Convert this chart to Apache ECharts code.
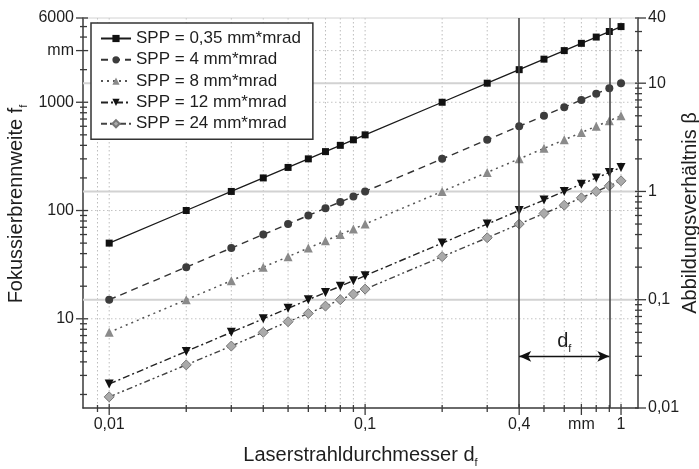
<!DOCTYPE html>
<html>
<head>
<meta charset="utf-8">
<title>Fokussierbrennweite</title>
<script src="https://cdn.jsdelivr.net/npm/echarts@6/dist/echarts.min.js"></script>
<style>
html,body{margin:0;padding:0;background:#fff;}
#chartBox{width:699px;height:469px;}
</style>
</head>
<body>
<div id="chartBox"></div>
<script>
// Laserstrahldurchmesser d_f in mm
var dVals=[0.01,0.02,0.03,0.04,0.05,0.06,0.07,0.08,0.09,0.1,0.2,0.3,0.4,0.5,0.6,0.7,0.8,0.9,1];
// Fokussierbrennweite f_f in mm
var spp035=[50,100,150,200,250,300,350,400,450,500,1000,1500,2000,2500,3000,3500,4000,4500,5000];
var spp4=[15,30,45,60,75,90,105,120,135,150,300,450,600,750,900,1050,1200,1350,1500];
var spp8=[7.5,15,22.5,30,37.5,45,52.5,60,67.5,75,150,225,300,375,450,525,600,675,750];
var spp12=[2.5,5,7.5,10,12.5,15,17.5,20,22.5,25,50,75,100,125,150,175,200,225,250];
var spp24=[1.9,3.75,5.6,7.5,9.4,11.2,13.1,15,16.9,18.8,37.5,56,75,94,112,131,150,169,188];
var seriesNames=['SPP = 0,35 mm*mrad','SPP = 4 mm*mrad','SPP = 8 mm*mrad','SPP = 12 mm*mrad','SPP = 24 mm*mrad'];

// axis ranges
var xMin=0.0079, xMax=1.165;
var fMin=1.5, fMax=6000;
var bMin=0.01, bMax=40;

// tick values and labels
var xMajor=[0.01,0.1,0.4,0.7,1];
var xLabels=['0,01','0,1','0,4','mm','1'];
var xMinor=[0.009,0.02,0.03,0.04,0.05,0.06,0.07,0.08,0.09,0.2,0.3,0.5,0.6,0.8,0.9];
var fMajor=[10,100,1000,3000,6000];
var fLabels=['10','100','1000','mm','6000'];
var fMinor=[2,3,4,5,6,7,8,9,20,30,40,50,60,70,80,90,200,300,400,500,600,700,800,900,2000,4000,5000];
var bMajor=[0.01,0.1,1,10,40];
var bLabels=['0,01','0,1','1','10','40'];
var bMinor=[0.02,0.03,0.04,0.05,0.06,0.07,0.08,0.09,0.2,0.3,0.4,0.5,0.6,0.7,0.8,0.9,2,3,4,5,6,7,8,9,20,30];
// grid lines
var xGrid=[0.009,0.01,0.02,0.03,0.04,0.05,0.06,0.07,0.08,0.09,0.1,0.2,0.3,0.5,0.6,0.7,0.8,1];
var fGrid=[10,100,1000,3000];
var bGrid=[0.1,1,10];
var bTop=[40];
// markierte Linien
var dfLines=[0.4,0.9];
var dfArrowY=4.5;

var fontFam='"Liberation Sans", Arial, Helvetica, sans-serif';
var axisColor='#3a3a3a';

function txt(x,y,s,align,vAlign){
	return {type:'text',x:x,y:y,silent:true,style:{text:s,fill:'#1e1e1e',fontSize:16,fontFamily:fontFam,align:align,verticalAlign:vAlign}};
}
function ln(x1,y1,x2,y2){
	return {type:'line',silent:true,shape:{x1:x1,y1:y1,x2:x2,y2:y2},style:{stroke:axisColor,lineWidth:1.3}};
}

// ticks + labels for one axis side
function tickSeries(side,vals,labels,lenOut,lenIn){
	var yIdx=side=='right'?1:0;
	return {
		type:'custom',yAxisIndex:yIdx,silent:true,z:6,clip:false,
		data:vals.map(function(v){
			if(side=='bottom'){return [v,fMin];}
			return [side=='left'?xMin:xMax,v];
		}),
		renderItem:function(params,api){
			var cs=params.coordSys;
			var p=api.coord([api.value(0),api.value(1)]);
			var lab=labels?labels[params.dataIndex]:null;
			var kids=[];
			if(side=='bottom'){
				var y0=cs.y+cs.height;
				kids.push(ln(p[0],y0-lenIn,p[0],y0+lenOut));
				if(lab){kids.push(txt(p[0],y0+9,lab,'center','top'));}
			}else if(side=='left'){
				var x0=cs.x;
				kids.push(ln(x0-lenOut,p[1],x0+lenIn,p[1]));
				if(lab){kids.push(txt(x0-9,p[1],lab,'right','middle'));}
			}else{
				var x1=cs.x+cs.width;
				kids.push(ln(x1-lenIn,p[1],x1+lenOut,p[1]));
				if(lab){kids.push(txt(x1+10,p[1],lab,'left','middle'));}
			}
			return {type:'group',children:kids};
		}
	};
}

// grid lines
function gridSeries(dir,yIdx,vals,stroke,width,dash){
	return {
		type:'custom',yAxisIndex:yIdx,silent:true,z:1,clip:false,
		data:vals.map(function(v){
			return dir=='v'?[v,fMin]:[xMin,v];
		}),
		renderItem:function(params,api){
			var cs=params.coordSys;
			var p=api.coord([api.value(0),api.value(1)]);
			var shape=dir=='v'?{x1:p[0],y1:cs.y,x2:p[0],y2:cs.y+cs.height}:{x1:cs.x,y1:p[1],x2:cs.x+cs.width,y2:p[1]};
			return {type:'line',silent:true,shape:shape,style:{stroke:stroke,lineWidth:width,lineDash:dash}};
		}
	};
}

function pairs(ys){
	var out=[];
	for(var i=0;i<dVals.length;i++){out.push([dVals[i],ys[i]]);}
	return out;
}

var richSub={
	a:{fontSize:20,fontFamily:fontFam,color:'#1e1e1e',lineHeight:26},
	s:{fontSize:11,fontFamily:fontFam,color:'#1e1e1e',verticalAlign:'bottom',lineHeight:11}
};

var lineSeries=[
	{name:seriesNames[0],data:pairs(spp035),symbol:'rect',symbolSize:7,
		itemStyle:{color:'#111'},lineStyle:{color:'#1a1a1a',width:1.3,type:'solid'}},
	{name:seriesNames[1],data:pairs(spp4),symbol:'circle',symbolSize:8,
		itemStyle:{color:'#3c3c3c'},lineStyle:{color:'#333',width:1.4,type:[7,5]}},
	{name:seriesNames[2],data:pairs(spp8),symbol:'triangle',symbolSize:9,
		itemStyle:{color:'#8a8a8a'},lineStyle:{color:'#555',width:1.5,type:[2,4]}},
	{name:seriesNames[3],data:pairs(spp12),symbol:'triangle',symbolRotate:180,symbolSize:9,
		itemStyle:{color:'#111'},lineStyle:{color:'#222',width:1.4,type:[7,3,2,3]}},
	{name:seriesNames[4],data:pairs(spp24),symbol:'diamond',symbolSize:10,
		itemStyle:{color:'#aaa',borderColor:'#777',borderWidth:1},lineStyle:{color:'#444',width:1.4,type:[6,3,2,3,2,3]}}
];
lineSeries.forEach(function(s){
	s.type='line';
	s.z=4;
	s.showAllSymbol=true;
	s.silent=true;
	s.emphasis={disabled:true};
});

// vertical lines at 0,4 and 0,9 with d_f arrow
lineSeries[0].markLine={
	silent:true,
	symbol:['none','none'],
	animation:false,
	label:{show:false},
	lineStyle:{color:'#444',width:1.6,type:'solid'},
	emphasis:{disabled:true},
	data:[
		{xAxis:dfLines[0]},
		{xAxis:dfLines[1]},
		[
			{coord:[dfLines[0],dfArrowY],symbol:'arrow',symbolSize:[8,12],
				label:{show:true,position:'middle',distance:2,formatter:'{a|d}{s|f}',rich:richSub},
				lineStyle:{color:'#111',width:1.4}},
			{coord:[dfLines[1],dfArrowY],symbol:'arrow',symbolSize:[8,12]}
		]
	]
};

var chartsBox=echarts.init(document.getElementById('chartBox'));
var option={
	animation:false,
	backgroundColor:'#fff',
	textStyle:{fontFamily:fontFam},
	grid:{left:83,right:61,top:18,bottom:61,containLabel:false,outerBoundsMode:'none'},
	legend:{
		data:seriesNames,
		orient:'vertical',
		left:91,top:23,
		padding:[7,12,7,9],
		itemGap:4.3,
		itemWidth:30,itemHeight:9,
		backgroundColor:'#fff',
		borderColor:'#333',borderWidth:1.5,borderRadius:0,
		z:10,
		selectedMode:false,
		textStyle:{fontSize:17,color:'#1e1e1e',fontFamily:fontFam}
	},
	xAxis:{
		type:'log',logBase:10,min:xMin,max:xMax,
		name:'{a|Laserstrahldurchmesser d}{s|f}',
		nameLocation:'middle',nameGap:34,
		nameTextStyle:{rich:richSub},
		axisLine:{show:true,lineStyle:{color:axisColor,width:1.5}},
		axisTick:{show:false},axisLabel:{show:false},splitLine:{show:false},minorTick:{show:false}
	},
	yAxis:[
		{type:'log',logBase:10,min:fMin,max:fMax,position:'left',
			name:'{a|Fokussierbrennweite f}{s|f}',
			nameLocation:'middle',nameGap:54,nameRotate:90,
			nameTextStyle:{rich:richSub,padding:[0,0,0,18]},
			axisLine:{show:true,lineStyle:{color:axisColor,width:1.5}},
			axisTick:{show:false},axisLabel:{show:false},splitLine:{show:false}},
		{type:'log',logBase:10,min:bMin,max:bMax,position:'right',
			name:'Abbildungsverhältnis β',
			nameLocation:'middle',nameGap:42,nameRotate:90,
			nameTextStyle:{fontSize:20,color:'#1e1e1e',fontFamily:fontFam},
			axisLine:{show:true,lineStyle:{color:axisColor,width:1.5}},
			axisTick:{show:false},axisLabel:{show:false},splitLine:{show:false}}
	],
	series:[
		gridSeries('v',0,xGrid,'#bdbdbd',1,[1.5,2.5]),
		gridSeries('h',0,fGrid,'#c4c4c4',1,[1.5,2.5]),
		gridSeries('h',1,bGrid,'#d2d2d2',2,null),
		gridSeries('h',1,bTop,'#d2d2d2',1,null),
		tickSeries('bottom',xMajor,xLabels,7,4),
		tickSeries('bottom',xMinor,null,4,3),
		tickSeries('left',fMajor,fLabels,7,5),
		tickSeries('left',fMinor,null,3,4),
		tickSeries('right',bMajor,bLabels,8,3),
		tickSeries('right',bMinor,null,4,3)
	].concat(lineSeries)
};
chartsBox.setOption(option);
</script>
</body>
</html>
